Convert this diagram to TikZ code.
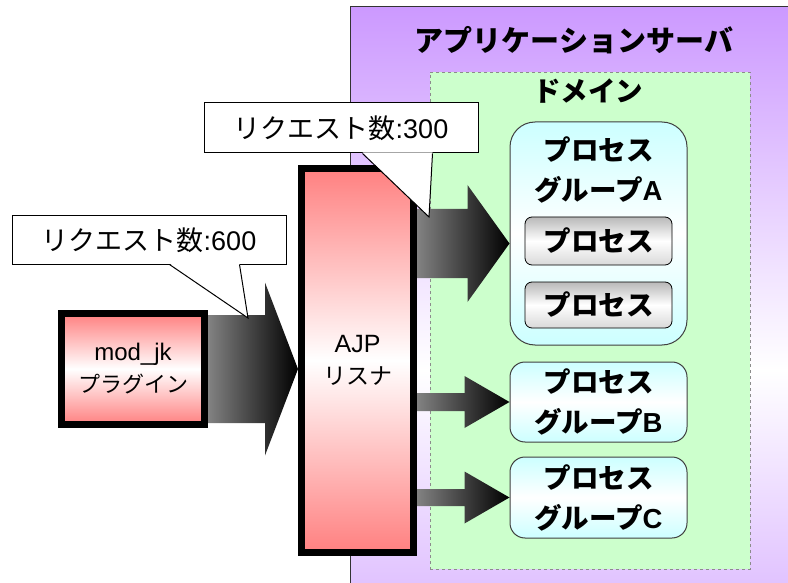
\documentclass[tikz,border=0pt]{standalone}
\usepackage{fontspec}
\setmainfont{Liberation Sans}
\newfontfamily\jp{Noto Sans CJK JP}
\usetikzlibrary{calc}

\definecolor{srvpurple}{RGB}{204,153,255}
\definecolor{domgreen}{RGB}{204,255,204}
\definecolor{grpcyan}{RGB}{204,255,255}
\definecolor{boxred}{RGB}{255,128,128}
\definecolor{arrowgray}{RGB}{130,130,130}

\tikzset{
  thickbox/.style={draw=black, line width=7pt, top color=boxred, bottom color=boxred, middle color=white, align=center, inner sep=0pt, font=\fontsize{24}{32}\selectfont},
  groupbox/.style={draw=black!75, line width=1pt, top color=grpcyan, bottom color=grpcyan, middle color=white, minimum width=177pt, align=center, inner sep=0pt},
  procbox/.style={draw=black, line width=0.8pt, rounded corners=7pt, top color=gray!55, bottom color=gray!30, middle color=white, minimum width=147pt, font=\jp\bfseries\fontsize{27.5}{30}\selectfont},
  callbox/.style={draw=black, fill=white, line width=1pt, minimum width=274pt, font=\fontsize{27}{30}\selectfont},
  grouptext/.style={font=\bfseries\fontsize{27.5}{40}\selectfont, align=center}
}

% start, tip, shaft half width, head half width, head length
\newcommand{\fatarrow}[5]{%
  \shade[left color=arrowgray, right color=black]
    ($(#1)+(0,-#3)$) -- ($(#2)+(-#5,-#3)$) -- ($(#2)+(-#5,-#4)$) -- (#2)
    -- ($(#2)+(-#5,#4)$) -- ($(#2)+(-#5,#3)$) -- ($(#1)+(0,#3)$) -- cycle;}

\begin{document}
\begin{tikzpicture}[x=1pt, y=-1pt]
    \useasboundingbox (0,0) rectangle (788,583);
    \clip (0,0) rectangle (788,583);

    % Draw the application server and the domain
    \node[draw=black!80, line width=1pt, top color=srvpurple, bottom color=srvpurple, middle color=white,
          minimum width=450pt, minimum height=726pt, inner sep=0pt] (appsrv) at (575,370) {};
    \node[font=\jp\bfseries\fontsize{29}{32}\selectfont] (srvlbl) at (574,40) {アプリケーションサーバ};
    \node[draw=black!45, dashed, line width=0.8pt, fill=domgreen, minimum width=320pt, minimum height=497pt,
          inner sep=0pt] (domain) at (590,320.5) {};
    \node[font=\jp\bfseries\fontsize{27.5}{30}\selectfont] (domlbl) at (588,91) {ドメイン};

    % Draw the process groups
    \node[groupbox, rounded corners=25pt, minimum height=223pt] (grpA) at (598.5,233.5) {};
    \node[grouptext] (grpAlbl) at (598.5,170) {{\jp プロセス}\\{\jp グループ}A};
    \node[procbox, minimum height=48pt] (procA1) at (598.5,241) {プロセス};
    \node[procbox, minimum height=46pt] (procA2) at (598.5,305) {プロセス};
    \node[groupbox, grouptext, rounded corners=15pt, minimum height=80pt] (grpB) at (598.5,402) {{\jp プロセス}\\{\jp グループ}B};
    \node[groupbox, grouptext, rounded corners=15pt, minimum height=81pt] (grpC) at (598.5,497.5) {{\jp プロセス}\\{\jp グループ}C};

    % Draw the plugin and the listener
    \node[thickbox, minimum width=143pt, minimum height=111pt] (modjk) at (133,369)
        {mod\_jk\\{\jp\fontsize{22}{32}\selectfont プラグイン}};
    \node[thickbox, minimum width=112pt, minimum height=384pt] (ajp) at (357.5,360.5)
        {\fontsize{25}{32}\selectfont AJP\\{\jp\fontsize{23}{32}\selectfont リスナ}};

    % Draw the arrows
    \coordinate (tipA) at ($(grpA.west)+(0,10)$);
    \fatarrow{modjk.east}{ajp.west |- modjk.east}{54}{86.5}{33}
    \fatarrow{ajp.east |- tipA}{tipA}{34.5}{58.5}{42}
    \fatarrow{ajp.east |- grpB.west}{grpB.west}{9}{26}{45}
    \fatarrow{ajp.east |- grpC.west}{grpC.west}{8.5}{26}{45}

    % Add callouts
    \node[callbox, minimum height=48pt] (cnt600) at (149,240) {{\jp リクエスト数}:600};
    \coordinate (tip600) at (248,318);
    \fill[white] ($(cnt600.south west)+(158,-1)$) -- (tip600) -- ($(cnt600.south west)+(228,-1)$) -- cycle;
    \draw[line width=1pt] ($(cnt600.south west)+(158,0)$) -- (tip600) -- ($(cnt600.south west)+(228,0)$);

    \node[callbox, minimum height=50pt] (cnt300) at (341,128) {{\jp リクエスト数}:300};
    \coordinate (tip300) at (429,217);
    \fill[white] ($(cnt300.south west)+(159,-1)$) -- (tip300) -- ($(cnt300.south west)+(229,-1)$) -- cycle;
    \draw[line width=1pt] ($(cnt300.south west)+(159,0)$) -- (tip300) -- ($(cnt300.south west)+(229,0)$);
\end{tikzpicture}
\end{document}
